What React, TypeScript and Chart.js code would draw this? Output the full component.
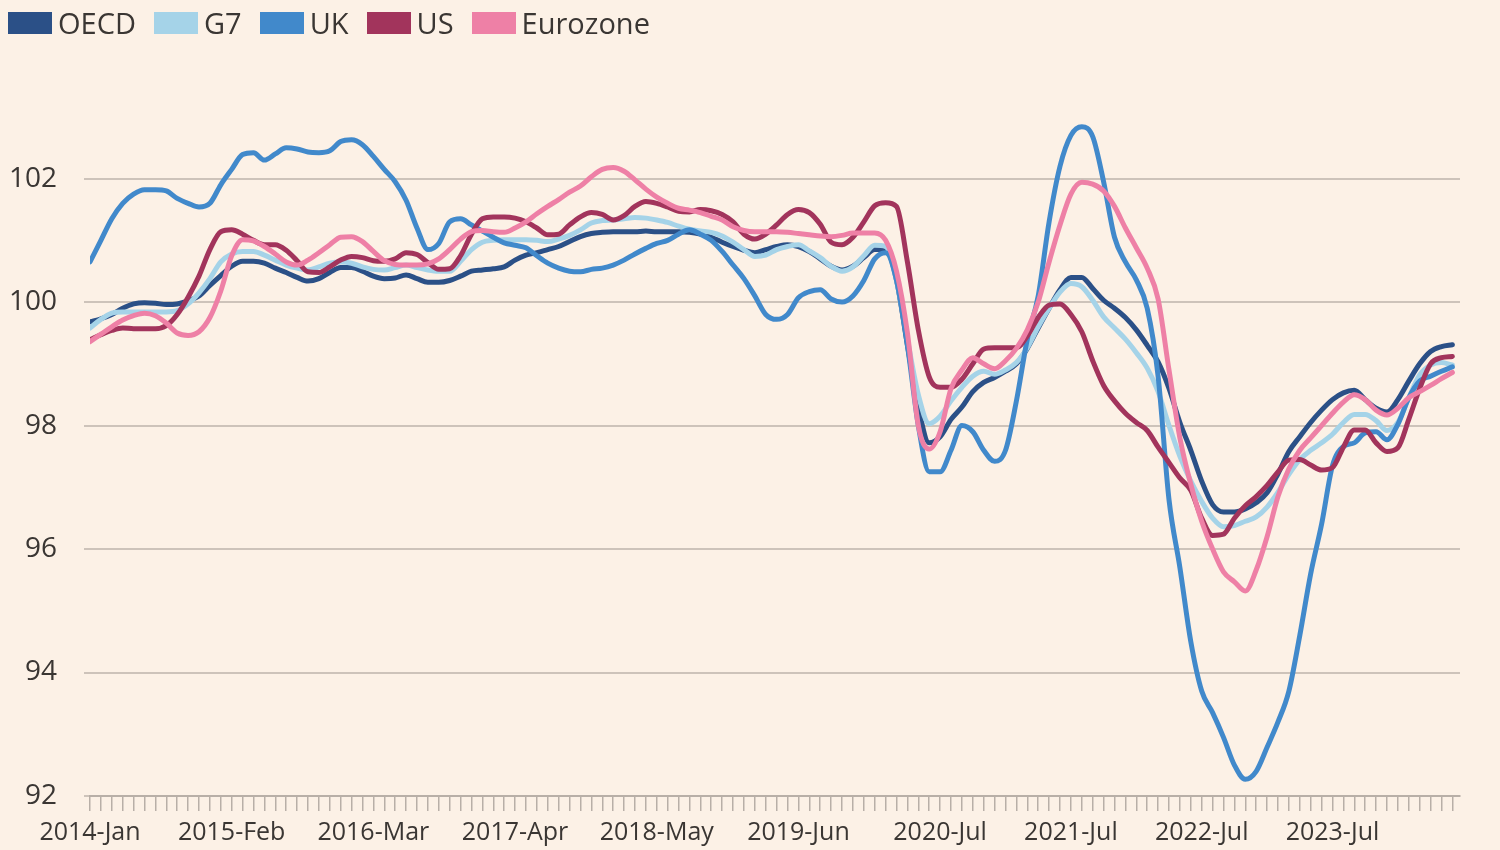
import React, { useEffect, useRef } from "react";
import { Chart, registerables } from "chart.js";

Chart.register(...registerables);

const MONTH_NAMES = ["Jan", "Feb", "Mar", "Apr", "May", "Jun", "Jul", "Aug", "Sep", "Oct", "Nov", "Dec"];
const START_YEAR = 2014;
const MONTH_COUNT = 126; // 2014-Jan .. 2024-Jun
const months: string[] = Array.from({ length: MONTH_COUNT }, (_, i) => `${START_YEAR + Math.floor(i / 12)}-${MONTH_NAMES[i % 12]}`);

const shownTickLabels = ["2014-Jan", "2015-Feb", "2016-Mar", "2017-Apr", "2018-May", "2019-Jun", "2020-Jul", "2021-Jul", "2022-Jul", "2023-Jul"];
const yTickValues = [92, 94, 96, 98, 100, 102];

const oecd = [
  99.68, 99.73, 99.8, 99.9, 99.97, 99.99, 99.98, 99.96, 99.97, 100.02, 100.1, 100.27,
  100.43, 100.58, 100.66, 100.66, 100.63, 100.55, 100.48, 100.4, 100.34, 100.38, 100.48, 100.56,
  100.56, 100.5, 100.42, 100.38, 100.39, 100.44, 100.38, 100.32, 100.32, 100.35, 100.42, 100.5,
  100.52, 100.54, 100.57, 100.68, 100.76, 100.8, 100.85, 100.9, 100.98, 101.06, 101.11, 101.13,
  101.14, 101.14, 101.14, 101.15, 101.14, 101.14, 101.14, 101.13, 101.1, 101.05, 100.97, 100.9,
  100.84, 100.8, 100.85, 100.9, 100.93, 100.9, 100.82, 100.7, 100.58, 100.52, 100.58, 100.72,
  100.85, 100.85, 100.36, 99.3, 98.3, 97.72, 97.82, 98.1, 98.3, 98.55, 98.7, 98.78,
  98.88, 99.0, 99.25, 99.58, 99.9, 100.2, 100.4, 100.4, 100.22, 100.03, 99.9, 99.75,
  99.55, 99.3, 99.03, 98.6, 98.05, 97.6, 97.1, 96.72, 96.6, 96.6, 96.65, 96.75,
  96.91, 97.22, 97.58, 97.82, 98.05, 98.25, 98.42, 98.53, 98.57, 98.42, 98.28, 98.22,
  98.42, 98.72, 99.0, 99.2, 99.28, 99.31,
];

const g7 = [
  99.58, 99.72, 99.82, 99.84, 99.84, 99.84, 99.84, 99.84, 99.86, 99.97, 100.15, 100.38,
  100.65, 100.78, 100.82, 100.82, 100.76, 100.68, 100.6, 100.55, 100.52, 100.57, 100.63, 100.65,
  100.63, 100.57, 100.53, 100.52, 100.56, 100.6, 100.56, 100.52, 100.5, 100.5, 100.66, 100.85,
  100.97, 101.0, 101.01, 101.01, 101.01, 101.0, 100.98, 101.02, 101.08, 101.17, 101.28, 101.32,
  101.33, 101.35, 101.37, 101.36, 101.33, 101.29, 101.23, 101.18, 101.15, 101.13, 101.07, 100.97,
  100.85, 100.74, 100.76, 100.85, 100.9, 100.93, 100.83, 100.72, 100.58, 100.5, 100.57, 100.75,
  100.92, 100.9, 100.35, 99.4, 98.5, 98.03, 98.15, 98.4, 98.62, 98.8, 98.88, 98.83,
  98.9, 99.02, 99.26, 99.6, 99.9, 100.16, 100.3, 100.25, 100.03, 99.76, 99.58, 99.4,
  99.18, 98.93, 98.55, 98.0, 97.5, 97.1, 96.77, 96.5, 96.36, 96.38, 96.45, 96.52,
  96.68, 96.92, 97.21, 97.45, 97.6, 97.72, 97.86, 98.05, 98.18, 98.18, 98.08, 97.92,
  98.05, 98.45, 98.82, 98.98, 99.02, 98.98,
];

const uk = [
  100.65, 101.0, 101.35, 101.6, 101.75, 101.82, 101.82, 101.8, 101.68, 101.6, 101.54, 101.6,
  101.9, 102.15, 102.39, 102.42, 102.3, 102.4, 102.5, 102.48, 102.43, 102.42, 102.45, 102.6,
  102.63, 102.55, 102.36, 102.15, 101.95, 101.65, 101.2, 100.85, 100.95, 101.3, 101.35, 101.25,
  101.15, 101.05, 100.96, 100.92, 100.88, 100.75, 100.63, 100.55, 100.5, 100.49, 100.53, 100.55,
  100.6, 100.68, 100.78, 100.87, 100.95, 101.0, 101.1, 101.17, 101.1, 101.0, 100.82, 100.6,
  100.38, 100.1, 99.8, 99.72, 99.8, 100.07, 100.17, 100.2, 100.05, 100.0, 100.1, 100.35,
  100.7, 100.8, 100.35, 99.3, 98.0, 97.25, 97.25, 97.6, 98.0, 97.9, 97.6, 97.42,
  97.6, 98.4, 99.4, 100.1, 101.3, 102.2, 102.7, 102.84, 102.68, 101.95, 101.05, 100.65,
  100.36, 99.9, 98.8, 96.8, 95.7, 94.5, 93.7, 93.35, 92.95, 92.5, 92.27, 92.4,
  92.79, 93.2, 93.7, 94.6, 95.6, 96.4, 97.35, 97.66, 97.72, 97.88, 97.9, 97.77,
  98.02, 98.45, 98.72, 98.8, 98.88, 98.95,
];

const us = [
  99.39, 99.47, 99.54, 99.58, 99.57, 99.57, 99.57, 99.62, 99.8, 100.08, 100.42, 100.85,
  101.14, 101.17, 101.1, 101.0, 100.93, 100.93, 100.84, 100.67, 100.49, 100.48, 100.57, 100.68,
  100.74, 100.72, 100.67, 100.66, 100.7, 100.8, 100.77, 100.64, 100.53, 100.54, 100.75, 101.1,
  101.35, 101.38, 101.38, 101.36, 101.3, 101.2, 101.09, 101.1, 101.25, 101.38, 101.45, 101.42,
  101.33, 101.4, 101.55, 101.63, 101.6, 101.54, 101.47, 101.46, 101.5, 101.48, 101.42, 101.3,
  101.1, 101.02, 101.1, 101.25, 101.42, 101.5, 101.45, 101.26, 100.97, 100.93, 101.05, 101.3,
  101.56, 101.61, 101.55, 100.65, 99.55, 98.79, 98.62, 98.62, 98.75, 99.0, 99.24, 99.26,
  99.26, 99.26, 99.45, 99.75, 99.95, 99.97, 99.8, 99.52, 99.05, 98.65, 98.4, 98.2,
  98.05, 97.92, 97.65, 97.4, 97.15, 96.95, 96.5, 96.22, 96.24, 96.5, 96.7, 96.85,
  97.03, 97.25, 97.44, 97.45, 97.36, 97.28, 97.32, 97.65, 97.93, 97.93, 97.72, 97.58,
  97.64, 98.1, 98.6, 99.0, 99.1, 99.12,
];

const eurozone = [
  99.36, 99.48, 99.6, 99.71, 99.78, 99.82, 99.78, 99.66, 99.5, 99.46, 99.52, 99.75,
  100.18, 100.75, 101.01, 100.99, 100.9, 100.78, 100.65, 100.6, 100.68, 100.8, 100.93, 101.05,
  101.06, 100.98, 100.82, 100.67, 100.61, 100.6, 100.6, 100.62, 100.7, 100.85, 101.02, 101.14,
  101.16, 101.14, 101.13, 101.2, 101.3, 101.43, 101.55, 101.66, 101.78, 101.88, 102.03, 102.15,
  102.18, 102.12, 101.98, 101.83, 101.7, 101.6, 101.52, 101.49, 101.45, 101.39, 101.33, 101.22,
  101.16, 101.14, 101.14, 101.14, 101.13, 101.11, 101.09, 101.07, 101.06, 101.08, 101.12, 101.12,
  101.12, 101.0, 100.5, 99.5, 98.0, 97.62, 97.9, 98.6, 98.9, 99.1, 99.0, 98.92,
  99.05, 99.25, 99.55, 100.0, 100.65, 101.25, 101.75, 101.94, 101.91, 101.8, 101.55, 101.2,
  100.88, 100.55, 100.05, 98.9, 97.8, 97.05, 96.45, 96.0, 95.63, 95.47, 95.32, 95.66,
  96.2, 96.85, 97.3, 97.6, 97.8, 98.0, 98.2, 98.38, 98.5, 98.42, 98.25, 98.17,
  98.28, 98.45, 98.55, 98.65, 98.76, 98.86,
];

const seriesNames = ["OECD", "G7", "UK", "US", "Eurozone"];
const seriesValues = [oecd, g7, uk, us, eurozone];
const seriesColors = ["#2b5087", "#a5d3e8", "#4189cb", "#a2345c", "#ee80a6"];
const drawOrder = [5, 4, 3, 2, 1];

const BG = "#fcf1e6";
const TEXT = "#3a3633";
const FONT = "'Open Sans', 'DejaVu Sans', sans-serif";

export default function App() {
  const canvasRef = useRef<HTMLCanvasElement | null>(null);

  useEffect(() => {
    const canvas = canvasRef.current;
    if (!canvas) return;
    const chart = new Chart(canvas, {
      type: "line",
      data: {
        datasets: seriesNames.map((name, k) => ({
          label: name,
          data: seriesValues[k].map((v, i) => ({ x: i, y: v })),
          borderColor: seriesColors[k],
          backgroundColor: seriesColors[k],
          order: drawOrder[k],
          fill: false,
        })),
      },
      options: {
        responsive: false,
        animation: false,
        layout: { padding: { top: 86, right: 40, left: 0, bottom: 0 } },
        plugins: {
          legend: { display: false },
          tooltip: { enabled: false },
        },
        elements: {
          point: { radius: 0, hoverRadius: 0 },
          line: {
            borderWidth: 5,
            cubicInterpolationMode: "monotone",
            borderCapStyle: "round",
            borderJoinStyle: "round",
          },
        },
        scales: {
          x: {
            type: "linear",
            min: 0,
            max: MONTH_COUNT - 1 + 0.7,
            afterFit: (s: any) => {
              s.height = 54;
            },
            border: { display: true, color: "#b8afa7", width: 2 },
            grid: {
              drawOnChartArea: false,
              drawTicks: true,
              tickLength: 15,
              color: "#b8afa7",
              lineWidth: 1.5,
            },
            ticks: {
              stepSize: 1,
              autoSkip: false,
              maxRotation: 0,
              includeBounds: false,
              padding: 7,
              color: TEXT,
              font: { family: FONT, size: 25 },
              callback: (v: any) => {
                const lab = months[Math.round(Number(v))];
                return lab && shownTickLabels.includes(lab) ? lab : "";
              },
            },
          },
          y: {
            min: 92,
            max: 103.5,
            afterFit: (s: any) => {
              s.width = 90;
            },
            afterBuildTicks: (s: any) => {
              s.ticks = yTickValues.map((v) => ({ value: v }));
            },
            border: { display: false },
            grid: { color: "#cdc3ba", lineWidth: 2, tickLength: 6, drawTicks: true },
            ticks: {
              padding: 27,
              color: TEXT,
              font: { family: FONT, size: 28 },
            },
          },
        },
      },
    } as any);
    return () => chart.destroy();
  }, []);

  return (
    <div
      style={{
        position: "absolute",
        left: 0,
        top: 0,
        width: 1500,
        height: 850,
        background: BG,
        overflow: "hidden",
      }}
    >
      <canvas ref={canvasRef} width={1500} height={850} style={{ position: "absolute", left: 0, top: 0, width: 1500, height: 850 }} />
      <div
        style={{
          position: "absolute",
          left: 8,
          top: 8,
          display: "flex",
          alignItems: "center",
          fontFamily: FONT,
          fontSize: 29,
          lineHeight: "30px",
          color: TEXT,
        }}
      >
        {seriesNames.map((name, k) => (
          <div key={name} style={{ display: "flex", alignItems: "center", marginRight: 18 }}>
            <span style={{ display: "inline-block", width: 44, height: 22, background: seriesColors[k], marginRight: 6 }} />
            <span>{name}</span>
          </div>
        ))}
      </div>
    </div>
  );
}
